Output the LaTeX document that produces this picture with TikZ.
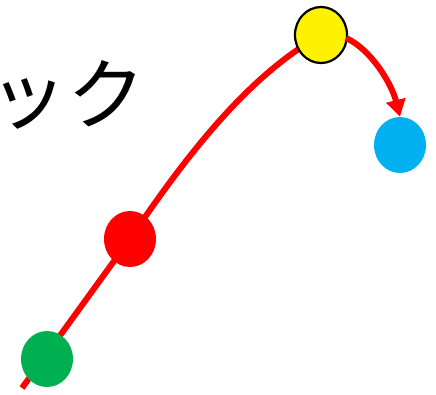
\documentclass[tikz,border=0pt]{standalone}
\usepackage{fontspec}
\newfontfamily\jpfont{Noto Sans CJK JP}
\usetikzlibrary{arrows.meta,backgrounds,shapes.geometric}
\definecolor{dotgreen}{HTML}{00B050}
\definecolor{dotblue}{HTML}{00B0F0}

\tikzset{
    dot/.style={ellipse, minimum width=52pt, minimum height=56pt, inner sep=0pt},
    track/.style={red, line width=6pt},
}

\begin{document}
\begin{tikzpicture}[x=1pt, y=-1pt]
    \useasboundingbox (0,0) rectangle (436,394);
    % Text
    \node[anchor=base west, inner sep=0pt, font=\jpfont\fontsize{78}{78}\selectfont] (word) at (-11,123.5) {ック};
    
    % Points
    \node[dot, fill=dotgreen] (green) at (47,359) {};
    \node[dot, fill=red] (redpt) at (130,239) {};
    \node[dot, fill=yellow, draw=black, line width=2.2pt] (yellowpt) at (321,35) {};
    \node[dot, fill=dotblue] (bluept) at (400,145) {};
    \coordinate (start) at (22,388);
    
    % Path
    \begin{scope}[on background layer]
        \draw[track] (start) -- (redpt.center) .. controls (190,150) and (250,75) .. (yellowpt.center);
    \end{scope}
    \draw[track, -{Triangle[length=17pt, width=19pt]}] (yellowpt.east) ++(-2,3) .. controls (372,50) and (392,85) .. (bluept.north);
\end{tikzpicture}
\end{document}
